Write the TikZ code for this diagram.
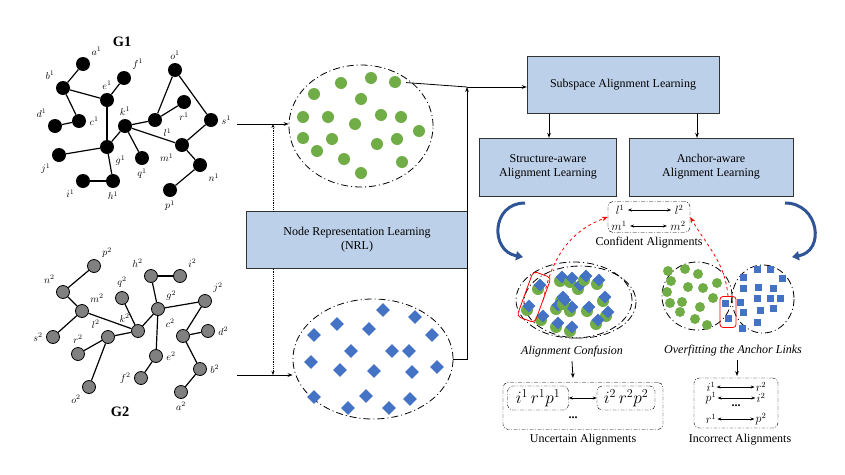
\documentclass[tikz,border=0pt]{standalone}
\usepackage{fontspec}
\setmainfont{Liberation Serif}
\usetikzlibrary{calc,shapes.geometric,arrows.meta,positioning}
\definecolor{boxblue}{HTML}{BDD0E9}
\definecolor{dotgreen}{HTML}{70AD47}
\definecolor{dotblue}{HTML}{4472C4}
\definecolor{arcblue}{HTML}{2F5597}

\begin{document}
\begin{tikzpicture}[x=1pt,y=-1pt,
  gone/.style={circle,fill=black,inner sep=0pt,minimum size=14pt},
  gtwo/.style={circle,fill=gray,draw=black,thick,inner sep=0pt,minimum size=13pt},
  edge/.style={line width=1.2pt},
  lbl/.style={label distance=-4pt,font=\Large},
  blk/.style={draw=black!80,fill=boxblue,align=center,font=\large},
  cloud/.style={ellipse,draw,thick,dash pattern=on 7pt off 3pt on 1pt off 3pt},
  gdot/.style={circle,fill=dotgreen,inner sep=0pt,minimum size=12pt},
  bdia/.style={diamond,fill=dotblue,inner sep=0pt,minimum size=14pt},
  bsq/.style={rectangle,fill=dotblue,inner sep=0pt,minimum size=7pt},
  sbox/.style={draw,rounded corners=5pt,dash pattern=on 4pt off 1.5pt on 1pt off 1.5pt},
  redline/.style={red,dashed,thick,-{Stealth[length=6pt]}},
  curvearrow/.style={arcblue,line width=3pt,-{Triangle[length=7pt,width=9pt]}}]
  \useasboundingbox (0,0) rectangle (845,474);

  %% Graph G1
  \node[font=\bfseries\Large] (G1) at (122,42) {G1};
  \foreach \n/\x/\y/\p in {a/83/64/above right,b/63/88/above left,e/107/100/above,
    f/124/78/above right,d/55/126/above left,c/79/121/right,k/125/126/above,
    g/107/147/below right,j/59/155/below left,q/142/158/below,i/83/181/below left,
    h/113/181/below,o/175/70/above,l/155/120/below right,r/184/102/below,
    s/211/120/right,m/182/145/below left,n/200/165/below right,p/170/190/below}
  {
    \node[gone,lbl,label=\p:$\n^1$] (\n1) at (\x,\y) {};
  }
  \foreach \u/\v in {a/b,b/e,e/f,b/c,c/d,e/g,g/j,g/h,h/i,g/k,k/q,k/l,l/o,l/r,o/s,s/m,k/m,m/n,n/p}
    \draw[edge] (\u1) -- (\v1);

  %% Graph G2
  \node[font=\bfseries\Large] (G2) at (120,412) {G2};
  \foreach \n/\x/\y/\p in {p/94/266/above right,n/63/292/above left,m/82/311/above right,
    s/53/337/left,q/122/298/above,h/151/276/above left,i/180/276/above right,
    g/158/309/above right,j/205/301/above right,k/138/331/above left,l/108/337/above left,
    r/78/354/above,o/89/387/below left,c/183/336/above left,d/208/331/right,
    e/156/356/right,f/141/378/left,b/200/369/right,a/181/392/below}
  {
    \node[gtwo,lbl,label=\p:$\n^2$] (\n2) at (\x,\y) {};
  }
  \foreach \u/\v in {p/n,n/m,m/s,m/k,q/k,k/g,g/h,h/i,g/j,g/e,e/f,k/l,l/r,l/o,j/c,c/d,c/b,b/a}
    \draw[edge] (\u2) -- (\v2);

  %% Embedding spaces
  \node[cloud,minimum width=144pt,minimum height=122pt] (E1) at (361,126) {};
  \foreach \x/\y in {314/94,341/83,371/78,395/82,361/99,303/117,328/117,355/124,381/115,
    401/117,419/131,303/138,332/139,317/151,344/159,361/173,377/144,397/139,402/162}
    \node[gdot] at (\x,\y) {};
  \node[cloud,minimum width=160pt,minimum height=120pt] (E2) at (373,359) {};
  \foreach \x/\y in {383/310,415/317,337/324,369/329,314/335,432/335,351/351,392/351,
    409/351,311/362,340/370,374/371,412/372,437/367,314/397,348/408,366/396,389/408,410/399}
    \node[bdia] at (\x,\y) {};

  \node[blk,minimum width=221pt,minimum height=57pt] (NRL) at (357,240)
    {Node Representation Learning\\(NRL)};
  \coordinate (in1) at (237,124);
  \coordinate (in2) at (237,375);
  \draw[thick,-{Stealth[length=5pt]}] (in1) -- (E1.west |- in1);
  \draw[thick,-{Stealth[length=5pt]}] (in2) -- (E2.west |- in2);
  \draw[thick,densely dotted,-{Stealth[length=4pt]}] (NRL.north -| 273,0) -- (273,124);
  \draw[thick,densely dotted,-{Stealth[length=4pt]}] (NRL.south -| 273,0) -- (273,375);

  %% Alignment learning
  \node[blk,minimum width=192pt,minimum height=57pt] (SAL) at (623,85) {Subspace Alignment Learning};
  \node[blk,minimum width=137pt,minimum height=58pt] (STR) at (548,167)
    {Structure-aware\\Alignment Learning};
  \node[blk,minimum width=164pt,minimum height=58pt] (ANC) at (711,167)
    {Anchor-aware\\Alignment Learning};
  \coordinate (jn) at (467,87);
  \draw[thick] (E1.north east) ++(-6,0) -- (jn);
  \draw[thick,-{Stealth[length=5pt]}] (jn) -- (SAL.west |- jn);
  \draw[thick,-{Stealth[length=5pt]}] (E2.east) -| (jn);
  \draw[thick,-{Stealth[length=5pt]}] (SAL.south -| 549,0) -- (STR.north -| 549,0);
  \draw[thick,-{Stealth[length=5pt]}] (SAL.south -| 697,0) -- (ANC.north -| 697,0);

  %% Confident alignments
  \node[sbox,minimum width=82pt,minimum height=31pt] (CA) at (649,217) {};
  \node[font=\large] (l1) at (620,210) {$l^1$};
  \node[font=\large] (l2) at (679,210) {$l^2$};
  \node[font=\large] (m1) at (619,226) {$m^1$};
  \node[font=\large] (m2) at (678,226) {$m^2$};
  \draw[thick,{Stealth[length=4pt]}-{Stealth[length=4pt]}] (l1) -- (l2);
  \draw[thick,{Stealth[length=4pt]}-{Stealth[length=4pt]}] (m1) -- (m2);
  \node[font=\large] (CAt) at (649,243) {Confident Alignments};

  %% Alignment confusion
  \node[cloud,minimum width=116pt,minimum height=76pt] (AC) at (574,300) {};
  \draw[thick,dash pattern=on 7pt off 3pt on 1pt off 3pt] (580,302) ellipse [x radius=56, y radius=36];
  \foreach \x/\y in {540/285,529/306,562/277,572/278,580/285,586/276,599/280,563/297,558/305,
    572/307,565/300,589/307,605/297,608/312,543/316,558/323,572/327,598/320}
  {
    \node[gdot] at ($(\x,\y)+(-2,4)$) {};
    \node[bdia,minimum size=13pt] at (\x,\y) {};
  }
  \node[draw=red,thick,rounded corners=4pt,minimum width=19pt,minimum height=48pt,rotate=-20] (RC) at (534,297) {};
  \node[font=\large\itshape] (ACt) at (572,352) {Alignment Confusion};

  %% Overfitting
  \draw[thick,dash pattern=on 7pt off 3pt on 1pt off 3pt] (697,296) ellipse [x radius=35, y radius=34];
  \draw[thick,dash pattern=on 7pt off 3pt on 1pt off 3pt] (763,299) ellipse [x radius=31, y radius=34];
  \foreach \x/\y in {668/271,685/269,698/274,671/281,688/287,703/288,717/283,667/292,682/302,
    700/307,713/298,680/312,695/319,707/325,670/303}
    \node[gdot,minimum size=10pt] at (\x,\y) {};
  \foreach \x/\y in {743/277,757/269,770/269,782/278,743/288,758/287,773/288,740/302,757/298,
    770/298,780/298,743/312,760/310,773/308,757/322,742/328,725/303,728/318}
    \node[bsq] at (\x,\y) {};
  \node[draw=red,thick,rounded corners=3pt,minimum width=16pt,minimum height=31pt] (RO) at (728,312) {};
  \node[font=\large\itshape] (OFt) at (733,351) {Overfitting the Anchor Links};

  \draw[redline] (RC.east) to[out=80,in=200] (CA.west);
  \draw[redline] (RO.north) to[out=95,in=-60] (CA.east);

  %% Curved arrows
  \coordinate (s1) at (525,203);
  \coordinate (s2) at (785,203);
  \coordinate (t1) at (523,257);
  \coordinate (t2) at (792,257);
  \draw[curvearrow] (s1) to[out=180,in=170,looseness=1.6] (t1);
  \draw[curvearrow] (s2) to[out=0,in=10,looseness=1.6] (t2);

  %% Uncertain alignments
  \draw[thick,-{Stealth[length=5pt]}] (ACt.south) -- (573,378);
  \node[sbox,minimum width=160pt,minimum height=47pt] (UA) at (583,406) {};
  \node[sbox,minimum width=61pt,minimum height=23pt,font=\LARGE] (UL) at (538,398) {$i^1\,r^1p^1$};
  \node[sbox,minimum width=58pt,minimum height=23pt,font=\LARGE] (UR) at (626,398) {$i^2\,r^2p^2$};
  \draw[thick,{Stealth[length=4pt]}-{Stealth[length=4pt]}] (UL) -- (UR);
  \node[font=\bfseries\large] (Ud) at (573,418) {...};
  \node[font=\large] (UAt) at (583,440) {Uncertain Alignments};

  %% Incorrect alignments
  \draw[thick,-{Stealth[length=5pt]}] (OFt.south -| 737,0) -- (737,376);
  \node[sbox,minimum width=84pt,minimum height=50pt] (IA) at (736,403) {};
  \foreach \a/\b/\y in {i^1/r^2/387,p^1/i^2/398,r^1/p^2/419}
  {
    \node[inner sep=1pt,font=\large] (L\y) at (711,\y) {$\a$};
    \node[inner sep=1pt,font=\large] (R\y) at (761,\y) {$\b$};
    \draw[thick,{Stealth[length=4pt]}-{Stealth[length=4pt]}] (L\y) -- (R\y);
  }
  \node[font=\bfseries\large] (Id) at (736,406) {...};
  \node[font=\large] (IAt) at (740,440) {Incorrect Alignments};
\end{tikzpicture}
\end{document}
